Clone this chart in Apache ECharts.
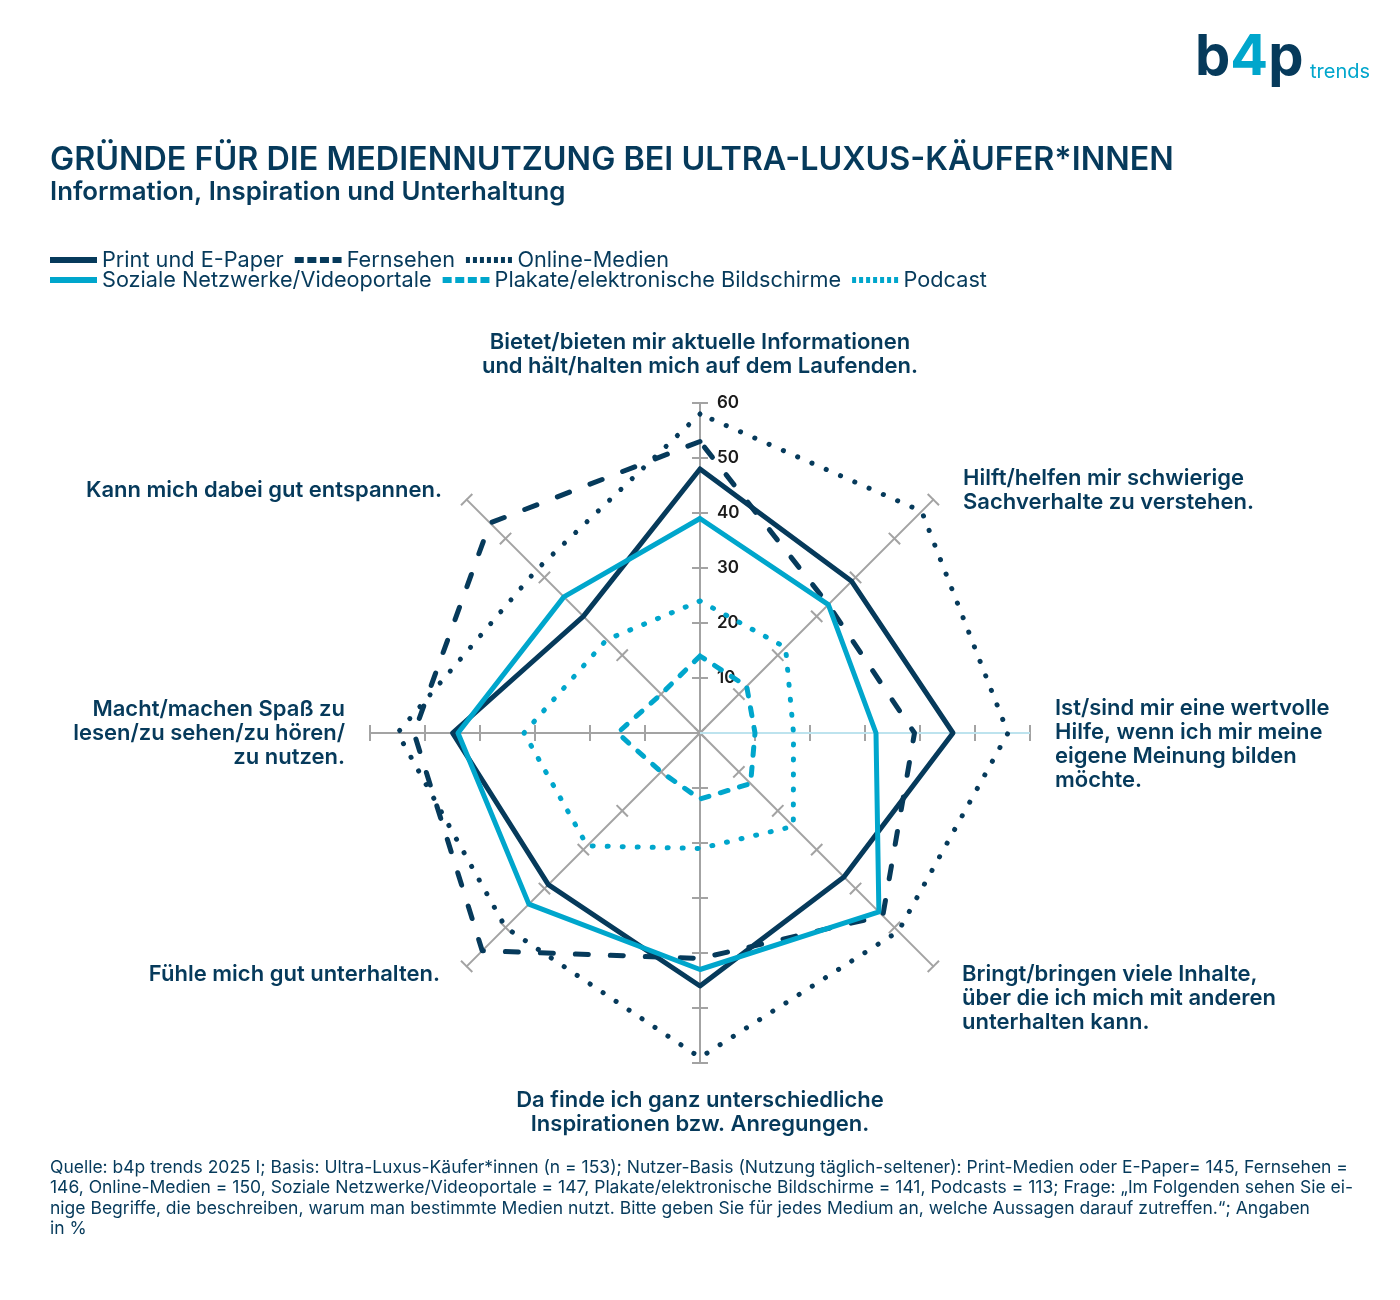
<!DOCTYPE html>
<html><head><meta charset="utf-8">
<script src="https://cdn.jsdelivr.net/npm/echarts@6/dist/echarts.min.js"></script>
<style>html,body{margin:0;padding:0;background:#fff}#c{width:1400px;height:1300px}</style>
</head><body><div id="c"></div>
<script>
const NAVY = '#063a5b';
const CYAN = '#00a6cc';
const GRID = '#a3a3a3';
const FONT = 'Inter, "Noto Sans", sans-serif';

// Indicators, clockwise starting at the top
const indicatorNames = [
  'Bietet/bieten mir aktuelle Informationen\nund hält/halten mich auf dem Laufenden.',
  'Hilft/helfen mir schwierige\nSachverhalte zu verstehen.',
  'Ist/sind mir eine wertvolle\nHilfe, wenn ich mir meine\neigene Meinung bilden\nmöchte.',
  'Bringt/bringen viele Inhalte,\nüber die ich mich mit anderen\nunterhalten kann.',
  'Da finde ich ganz unterschiedliche\nInspirationen bzw. Anregungen.',
  'Fühle mich gut unterhalten.',
  'Macht/machen Spaß zu\nlesen/zu sehen/zu hören/\nzu nutzen.',
  'Kann mich dabei gut entspannen.'
];
const seriesNames = ['Print und E-Paper', 'Fernsehen', 'Online-Medien',
  'Soziale Netzwerke/Videoportale', 'Plakate/elektronische Bildschirme', 'Podcast'];
// values in %, clockwise from top
const printEPaper = [48, 39, 46, 37, 46, 39, 45, 30];
const fernsehen   = [53, 33, 39, 47, 41, 56, 52, 54];
const onlineMedien = [58, 57, 56, 51, 59, 50, 55, 42];
const sozialeNetzwerke = [39, 33, 32, 46, 43, 44, 44, 35];
const plakate = [14, 12, 10, 13, 12, 10, 15, 10];
const podcast = [24, 22, 17, 24, 21, 29, 32, 24];
const axisMax = 60;
const axisStep = 10;

// ECharts radar runs counter-clockwise: reorder
const ccw = a => [a[0]].concat(a.slice(1).reverse());

const styles = [
  {color: NAVY, type: 'solid'},
  {color: NAVY, type: [13, 22]},
  {color: NAVY, type: [0.1, 15.5]},
  {color: CYAN, type: 'solid'},
  {color: CYAN, type: [8, 12]},
  {color: CYAN, type: [1, 14]}
];
const values = [printEPaper, fernsehen, onlineMedien, sozialeNetzwerke, plakate, podcast];

const ICON_SOLID = 'path://M0,0H47V6H0Z';
const ICON_DASH = 'path://M0,0h9v6h-9zM12.6,0h9v6h-9zM25.2,0h9v6h-9zM37.8,0h9v6h-9z';
const ICON_DOT = 'path://M0,0h4v6h-4zM7,0h4v6h-4zM14,0h4v6h-4zM21,0h4v6h-4zM28,0h4v6h-4zM35,0h4v6h-4zM42,0h4v6h-4z';
const icons = [ICON_SOLID, ICON_DASH, ICON_DOT, ICON_SOLID, ICON_DASH, ICON_DOT];

// label nudges: horizontal rich style per line, spacer line above / below (clockwise from top)
const nameNudge = [
  null,
  {h: 'l12', top: 'sp16'},
  {h: 'n', top: 'sp22'},
  {h: 'l11', top: 'sp28'},
  null,
  {h: 'r9', bottom: 'sp20'},
  null,
  {h: 'r7', top: 'sp16'}
];
const LH = 24;
const txt = {color: NAVY, fontSize: 22, fontWeight: 600, fontFamily: FONT, lineHeight: LH};
const rich = {
  n:   Object.assign({}, txt),
  l12: Object.assign({padding: [0, 0, 0, 12]}, txt),
  l11: Object.assign({padding: [0, 0, 0, 11]}, txt),
  r9:  Object.assign({padding: [0, 9, 0, 0]}, txt),
  r7:  Object.assign({padding: [0, 7, 0, 0]}, txt),
  sp16: {fontSize: 1, lineHeight: 16},
  sp20: {fontSize: 1, lineHeight: 20},
  sp22: {fontSize: 1, lineHeight: 22},
  sp28: {fontSize: 1, lineHeight: 28}
};
const formatName = name => {
  const nudge = nameNudge[indicatorNames.indexOf(name)];
  if (!nudge) return name;
  const lines = name.split('\n').map(line => '{' + nudge.h + '|' + line + '}');
  if (nudge.top) lines.unshift('{' + nudge.top + '| }');
  if (nudge.bottom) lines.push('{' + nudge.bottom + '| }');
  return lines.join('\n');
};

const indicators = ccw(indicatorNames).map(n => ({name: n, min: 0, max: axisMax}));
const radarBase = {
  center: [700, 733], radius: 330, startAngle: 90, splitNumber: axisMax / axisStep, shape: 'polygon',
  indicator: indicators,
  splitLine: {show: false}, splitArea: {show: false}, axisLabel: {show: false}
};

const legendText = {color: NAVY, fontSize: 21.7, fontFamily: FONT};
const mkLegend = (idx, top) => ({
  left: 50, top: top, itemWidth: 47, itemHeight: 6, itemGap: 11, padding: 0,
  textStyle: legendText, selectedMode: false,
  data: idx.map(i => ({name: seriesNames[i], icon: icons[i], itemStyle: {color: styles[i].color}}))
});

const option = {
  backgroundColor: '#fff',
  animation: false,
  title: {
    text: 'GRÜNDE FÜR DIE MEDIENNUTZUNG BEI ULTRA-LUXUS-KÄUFER*INNEN',
    subtext: 'Information, Inspiration und Unterhaltung',
    left: 50, top: 144, padding: 0, itemGap: 3,
    textStyle: {color: NAVY, fontSize: 32.3, fontWeight: 600, fontFamily: FONT},
    subtextStyle: {color: NAVY, fontSize: 25.8, fontWeight: 600, fontFamily: FONT}
  },
  legend: [mkLegend([0, 1, 2], 249), mkLegend([3, 4, 5], 269)],
  radar: [
    Object.assign({}, radarBase, {
      nameGap: 25,
      axisName: Object.assign({formatter: formatName, rich: rich}, txt),
      axisLine: {lineStyle: {color: GRID, width: 2}},
      axisTick: {show: true, length: 8, lineStyle: {color: GRID, width: 2}}
    }),
    Object.assign({}, radarBase, {
      axisName: {show: false},
      axisLine: {show: false},
      axisTick: {show: true, length: -8, lineStyle: {color: GRID, width: 2}}
    })
  ],
  polar: {center: [700, 733], radius: 330},
  angleAxis: {
    type: 'value', min: 0, max: 360, interval: 90, startAngle: 90, clockwise: true, z: 5,
    axisLine: {show: false}, axisTick: {show: false}, axisLabel: {show: false},
    splitLine: {show: true, lineStyle: {width: 2, color: ['rgba(0,0,0,0)', '#bde3ee', 'rgba(0,0,0,0)', 'rgba(0,0,0,0)']}}
  },
  radiusAxis: {
    min: 0, max: axisMax, interval: axisStep, z: 6,
    axisLine: {show: false}, axisTick: {show: false}, splitLine: {show: false},
    axisLabel: {show: true, margin: -17, align: 'left', color: '#1a1a1a', fontSize: 17, fontWeight: 600, fontFamily: FONT,
      formatter: v => (v === 0 ? '' : String(v))}
  },
  series: values.map((v, i) => ({
    type: 'radar', radarIndex: 0, symbol: 'none', z: 10 - (i % 3),
    itemStyle: {color: styles[i].color},
    lineStyle: {color: styles[i].color, width: 5, type: styles[i].type, cap: 'round', join: 'round'},
    data: [{name: seriesNames[i], value: ccw(v)}]
  })),
  graphic: [
    {type: 'text', left: 1195, top: 30, style: {
      text: '{b|b}{f|4}{b|p}', rich: {
        b: {fontSize: 56, fontWeight: 700, fill: NAVY, fontFamily: FONT},
        f: {fontSize: 56, fontWeight: 700, fill: CYAN, fontFamily: FONT}
      }}},
    {type: 'text', left: 1310, top: 62, style: {text: 'trends', fill: CYAN, fontSize: 20, fontFamily: FONT}},
    {type: 'text', left: 50, top: 1157, style: {
      text: 'Quelle: b4p trends 2025 I; Basis: Ultra-Luxus-Käufer*innen (n = 153); Nutzer-Basis (Nutzung täglich-seltener): Print-Medien oder E-Paper= 145, Fernsehen =\n146, Online-Medien = 150, Soziale Netzwerke/Videoportale = 147, Plakate/elektronische Bildschirme = 141, Podcasts = 113; Frage: „Im Folgenden sehen Sie ei-\nnige Begriffe, die beschreiben, warum man bestimmte Medien nutzt. Bitte geben Sie für jedes Medium an, welche Aussagen darauf zutreffen.“; Angaben\nin %',
      fill: NAVY, fontSize: 17.5, lineHeight: 20.5, fontFamily: FONT}}
  ]
};
const chart = echarts.init(document.getElementById('c'), null, {renderer: 'canvas'});
chart.setOption(option);
</script></body></html>
